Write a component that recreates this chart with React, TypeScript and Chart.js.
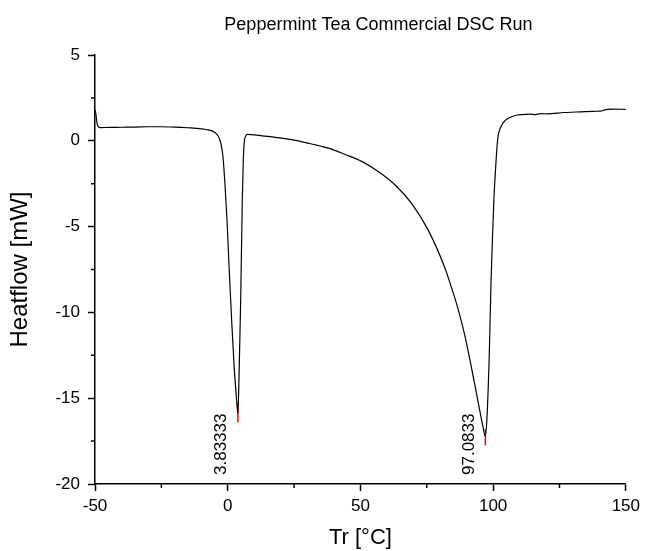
import React, { useEffect, useRef } from "react";
import { Chart, registerables } from "chart.js";

Chart.register(...registerables);

const chartTitle = "Peppermint Tea Commercial DSC Run";
const xAxisTitle = "Tr [°C]";
const yAxisTitle = "Heatflow [mW]";

// Temperature (°C) and heat flow (mW)
const tempC = [
  -50, -49.7, -49.2, -48.6, -48, -45, -40, -35, -30, -25, -20, -15, -10, -7, -5, -3.5, -2.5, -1.8, -1,
  -0.2, 0.5, 1.5, 2.4, 3.2, 3.83333, 4.3, 4.9, 5.5, 5.9, 6.3, 6.8, 7.5, 10, 13, 18, 25.5, 32, 38, 44,
  50.5, 56.7, 63, 69.2, 75.5, 81.7, 84, 86.7, 89.2, 91.7, 94.2, 96.1, 97.0833, 97.7, 98.6, 99.2,
  99.8, 100.3, 100.9, 101.7, 103, 104.8, 108, 114, 116, 118, 120.5, 126.7, 133, 138, 140.5, 142, 144.2,
  150,
];
const heatflow = [
  1.8, 1.6, 1.0, 0.8, 0.77, 0.78, 0.79, 0.8, 0.82, 0.82, 0.8, 0.76, 0.7, 0.62, 0.5, 0.25, -0.2, -0.9,
  -2.6, -4.8, -7.3, -10.5, -13.1, -14.8, -15.9, -13.5, -9.2, -3.4, -1.0, 0.0, 0.28, 0.37, 0.35, 0.29,
  0.2, 0.02, -0.2, -0.43, -0.78, -1.2, -1.79, -2.56, -3.63, -5.19, -7.35, -8.4, -9.75, -11.25,
  -13.1, -15.1, -16.6, -17.2, -16.1, -12.2, -8.3, -5.5, -3.4, -1.7, 0.06, 0.83, 1.22, 1.46, 1.55,
  1.53, 1.58, 1.57, 1.65, 1.69, 1.72, 1.73, 1.8, 1.85, 1.83,
];

// Peak markers
const peakTemps = [3.83333, 97.0833];
const peakLabels = ["3.83333", "97.0833"];
const peakMarkTop = [-15.3, -16.8];
const peakMarkBottom = [-16.4, -17.75];

const xTicks = [-50, 0, 50, 100, 150];
const xMinorTicks = [-25, 25, 75, 125];
const yTicks = [-20, -15, -10, -5, 0, 5];
const yMinorTicks = [-17.5, -12.5, -7.5, -2.5, 2.5];

const FONT = "'Liberation Sans', Arial, sans-serif";

const annotationsPlugin = {
  id: "dscAnnotations",
  afterDraw(chart: any) {
    const ctx = chart.ctx;
    const xs = chart.scales.x;
    const ys = chart.scales.y;
    ctx.save();
    // title
    ctx.fillStyle = "#000";
    ctx.font = `18px ${FONT}`;
    ctx.textAlign = "center";
    ctx.textBaseline = "middle";
    ctx.fillText(chartTitle, (xs.left + xs.right) / 2 + 18, 25);
    // minor ticks
    ctx.strokeStyle = "#000";
    ctx.lineWidth = 1.5;
    ctx.beginPath();
    xMinorTicks.forEach((v) => {
      const px = xs.getPixelForValue(v);
      ctx.moveTo(px, ys.bottom);
      ctx.lineTo(px, ys.bottom + 4);
    });
    yMinorTicks.forEach((v) => {
      const py = ys.getPixelForValue(v);
      ctx.moveTo(xs.left, py);
      ctx.lineTo(xs.left - 4, py);
    });
    ctx.stroke();
    // peak labels
    ctx.font = `17px ${FONT}`;
    ctx.textAlign = "left";
    ctx.textBaseline = "bottom";
    peakTemps.forEach((t, i) => {
      const px = xs.getPixelForValue(t);
      const py = ys.getPixelForValue(-20) - 9;
      ctx.save();
      ctx.translate(px - 8, py);
      ctx.rotate(-Math.PI / 2);
      ctx.fillText(peakLabels[i], 0, 0);
      ctx.restore();
    });
    ctx.restore();
  },
};

export default function App() {
  const ref = useRef<HTMLCanvasElement>(null);
  useEffect(() => {
    if (!ref.current) return;
    const mainData = tempC.map((x, i) => ({ x, y: heatflow[i] }));
    const peakSets = peakTemps.map((t, i) => ({
      data: [
        { x: t, y: peakMarkTop[i] },
        { x: t, y: peakMarkBottom[i] },
      ],
      borderColor: "#ff0000",
      borderWidth: 1.5,
      pointRadius: 0,
      showLine: true,
    }));
    const chart = new Chart(ref.current, {
      type: "scatter",
      data: {
        datasets: [
          {
            data: mainData,
            borderColor: "#000",
            borderWidth: 1.2,
            pointRadius: 0,
            showLine: true,
            cubicInterpolationMode: "monotone",
          } as any,
          ...peakSets,
        ],
      },
      options: {
        responsive: false,
        animation: false,
        layout: { padding: { left: 2, right: 16, top: 55, bottom: 0 } },
        plugins: {
          legend: { display: false },
          tooltip: { enabled: false },
          title: { display: false },
        },
        scales: {
          x: {
            type: "linear",
            min: -50,
            max: 150,
            afterBuildTicks: (s: any) => {
              s.ticks = xTicks.map((v) => ({ value: v }));
            },
            afterFit: (s: any) => {
              s.height = 67;
            },
            ticks: {
              color: "#000",
              font: { family: FONT, size: 17 },
              padding: 5,
              maxRotation: 0,
            },
            grid: {
              drawOnChartArea: false,
              drawTicks: true,
              tickLength: 7,
              tickColor: "#000",
              tickWidth: 1.5,
            },
            border: { display: true, color: "#000", width: 1.5 },
            title: {
              display: true,
              text: xAxisTitle,
              color: "#000",
              font: { family: FONT, size: 22 },
              padding: { top: 0, bottom: 0 },
            },
          },
          y: {
            type: "linear",
            min: -20,
            max: 5,
            afterBuildTicks: (s: any) => {
              s.ticks = yTicks.map((v) => ({ value: v }));
            },
            afterFit: (s: any) => {
              s.width = 93;
            },
            ticks: {
              color: "#000",
              font: { family: FONT, size: 17 },
              padding: 8,
            },
            grid: {
              drawOnChartArea: false,
              drawTicks: true,
              tickLength: 7,
              tickColor: "#000",
              tickWidth: 1.5,
            },
            border: { display: true, color: "#000", width: 1.5 },
            title: {
              display: true,
              text: yAxisTitle,
              color: "#000",
              font: { family: FONT, size: 24 },
              padding: { top: 4, bottom: 0 },
            },
          },
        },
      },
      plugins: [annotationsPlugin],
    });
    return () => chart.destroy();
  }, []);
  return (
    <div style={{ position: "absolute", left: 0, top: 0, width: 645, height: 551, background: "#fff" }}>
      <canvas ref={ref} width={645} height={551} />
    </div>
  );
}
